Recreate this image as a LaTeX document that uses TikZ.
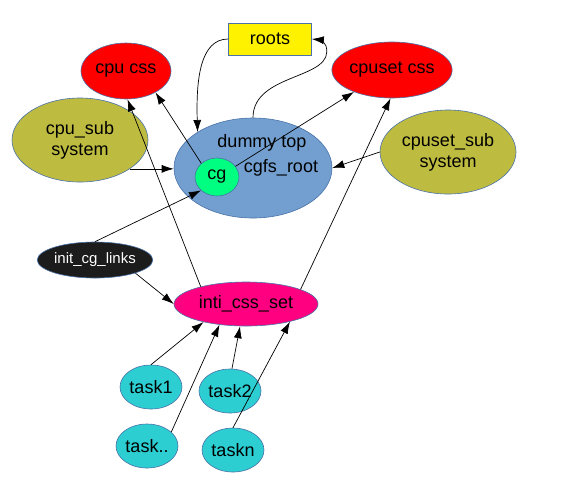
\documentclass[tikz,border=0pt]{standalone}
\usepackage{fontspec}
\setmainfont{Liberation Sans}
\usetikzlibrary{shapes.geometric,arrows.meta}
\definecolor{rim}{HTML}{4A72A8}
\definecolor{olive}{HTML}{BEBB41}
\definecolor{dummyblue}{HTML}{729FCF}
\definecolor{cggreen}{HTML}{00FF80}
\definecolor{cssmag}{HTML}{FF0080}
\definecolor{taskcyan}{HTML}{2CCED1}
\definecolor{linkblack}{HTML}{1C1C1C}
\begin{document}
\begin{tikzpicture}[x=1pt,y=1pt,
    oval/.style={ellipse,draw=rim,line width=0.6pt,inner sep=0pt,
      font=\fontsize{18}{21}\selectfont,align=center},
    css/.style={oval,fill=red,minimum width=90pt,minimum height=56pt},
    subsys/.style={oval,fill=olive,minimum width=136pt,minimum height=84pt},
    task/.style={oval,fill=taskcyan,minimum width=62pt,minimum height=44pt},
    arr/.style={-{Latex[length=12pt,width=8pt]},line width=0.7pt}]
  \useasboundingbox (0,0) rectangle (577,-491);
  % nodes
  \node[draw=rim,line width=0.6pt,fill=yellow,minimum width=83pt,minimum height=32pt,
    inner sep=0pt,font=\fontsize{18}{21}\selectfont] (roots) at (270,-39) {roots};
  \node[css] (cpucss) at (126,-71) {cpu css};
  \node[css] (cpusetcss) at (392,-70) {cpuset css};
  \node[subsys] (cpusub) at (80,-140) {cpu\_sub\\system};
  \node[subsys] (cpusetsub) at (448,-152) {cpuset\_sub\\system};
  \node[oval,fill=dummyblue,minimum width=158pt,minimum height=100pt] (dummy) at (253,-168) {};
  \node[font=\fontsize{18}{21}\selectfont] (dtop) at (262,-143) {dummy top};
  \node[font=\fontsize{18}{21}\selectfont] (croot) at (281,-168) {cgfs\_root};
  \node[oval,fill=cggreen,minimum width=44pt,minimum height=38pt] (cg) at (217,-177) {cg};
  \node[oval,fill=linkblack,text=white,minimum width=102pt,minimum height=36pt,
    font=\fontsize{15}{18}\selectfont] (initlinks) at (95,-260) {init\_cg\_links};
  \node[oval,fill=cssmag,minimum width=144pt,minimum height=44pt] (inticss) at (246,-304) {inti\_css\_set};
  \node[task] (task1) at (151,-387) {task1};
  \node[task] (task2) at (230,-391) {task2};
  \node[task] (taskdd) at (147,-446) {task..};
  \node[task] (taskn) at (233,-450) {taskn};

  % links
  \draw[arr] (roots.west) .. controls (200,-39) and (196,-80) .. (dummy.147);
  \draw[arr] (dummy.north) .. controls (253,-72) and (336,-80) .. (326,-46)
    .. controls (322,-40) .. (roots.east);
  \draw[arr] (cg.139) -- (cpucss.-36);
  \draw[arr] (cg.30) -- (cpusetcss.-150);
  \draw[arr] (cpusub.-30) -- (cpusub.-30 -| dummy.west);
  \draw[arr] (cpusetsub.west) -- (dummy.east);
  \draw[arr] (initlinks.north) -- (cg.-140);
  \draw[arr] (initlinks.-18) -- (inticss.west);
  \draw[arr] (inticss.159) -- (cpucss.-87);
  \draw[arr] (inticss.15) -- (cpusetcss.-93);
  \draw[arr] (task1.north) -- (inticss.-157);
  \draw[arr] (taskdd.30) -- (inticss.-142);
  \draw[arr] (task2.85) -- (inticss.-105);
  \draw[arr] (taskn.north) -- (inticss.-22);
\end{tikzpicture}
\end{document}
